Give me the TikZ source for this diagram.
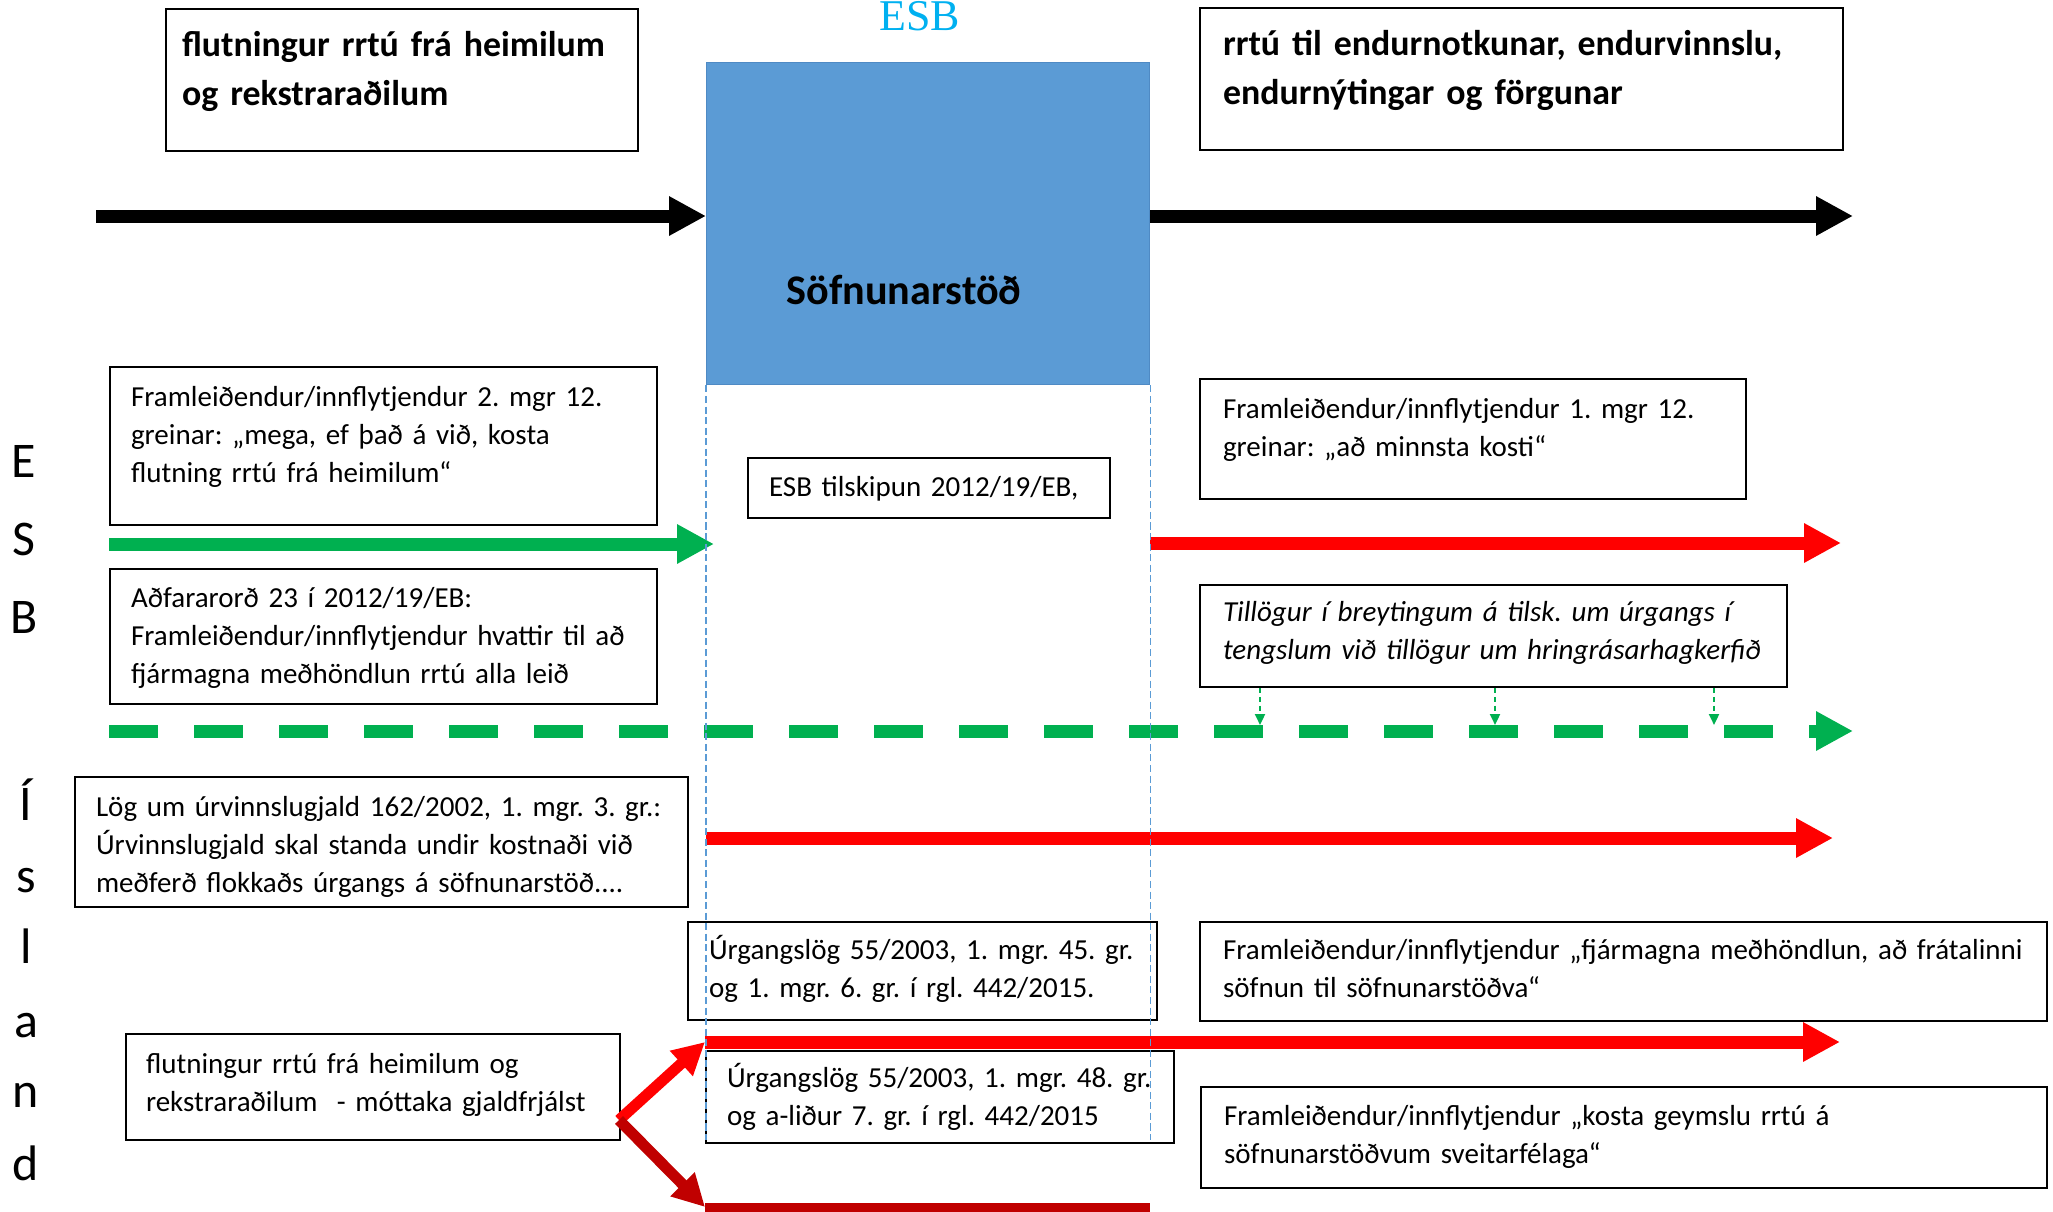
\documentclass[tikz,border=0pt]{standalone}
\usepackage{fontspec}
\setmainfont{Carlito}
\newfontfamily\esbfont{Liberation Serif}
\usepackage{xcolor}
\usetikzlibrary{arrows.meta}
\usetikzlibrary{positioning}

\definecolor{esbblue}{HTML}{00B0F0}
\definecolor{boxblue}{HTML}{5B9BD5}
\definecolor{boxedge}{HTML}{4F8AC4}
\definecolor{grn}{HTML}{00B050}
\definecolor{rd}{HTML}{FF0000}
\definecolor{drd}{HTML}{C00000}

\newcommand{\txtfont}{\fontsize{8.25pt}{10.81pt}\selectfont\frenchspacing}
\newcommand{\headfont}{\fontsize{10.2pt}{14.1pt}\selectfont\bfseries\frenchspacing\hyphenpenalty=10000}

\tikzset{
  lawbox/.style={draw, line width=0.6pt, fill=white, anchor=north west, align=left,
    inner xsep=0.21cm, inner ysep=0pt, font=\txtfont},
  headbox/.style={lawbox, font=\headfont},
  bigarrow/.style={line width=0.13cm, -{Triangle[length=0.37cm,width=0.37cm]}},
  bendarrow/.style={line width=0.11cm, -{Triangle[length=0.32cm,width=0.32cm]}},
  hintarrow/.style={grn, line width=0.6pt, dash pattern=on 1.5pt off 1pt, -{Triangle[length=0.11cm,width=0.1cm]}},
  sideletter/.style={anchor=base, font=\fontsize{14.2pt}{17pt}\selectfont},
  guide/.style={boxblue, line width=0.5pt, dash pattern=on 2pt off 1pt}
}

\begin{document}
\begin{tikzpicture}
\useasboundingbox (0,0) rectangle (20.53,12.11);

% Title and collection point
\node[anchor=base, esbblue, font=\esbfont\fontsize{12.5pt}{15pt}\selectfont] (esb) at (9.20,11.81) {ESB};
\node[draw=boxedge, fill=boxblue, line width=0.4pt, anchor=north west, minimum width=4.43cm, minimum height=3.22cm, inner sep=0pt] (stod) at (7.06,11.49) {};
\node[font=\fontsize{12pt}{14pt}\selectfont\bfseries] (stodname) at (9.04,9.21) {Söfnunarstöð};

% Top row
\node[headbox, inner xsep=0.16cm, text width=4.40cm, text height=0.47cm, text depth=0.95cm] (flutn) at (1.65,12.03) {flutningur rrtú frá heimilum\\og rekstraraðilum};
\node[headbox, inner xsep=0.23cm, text width=5.97cm, text height=0.47cm, text depth=0.95cm] (endurn) at (11.99,12.04) {rrtú til endurnotkunar, endurvinnslu,\\endurnýtingar og förgunar};

\coordinate (inn) at (0.96,9.95);
\coordinate (ut) at (18.53,9.95);
\draw[bigarrow] (inn) -- (inn -| stod.west);
\draw[bigarrow] (ut -| stod.east) -- (ut);

% Side letters
\foreach \ch/\y [count=\i] in {E/7.34, S/6.56, B/5.78}
  \node[sideletter] (esbl\i) at (0.24,\y) {\ch};
\foreach \ch/\y [count=\i] in {Í/3.91, s/3.19, l/2.48, a/1.74, n/1.04, d/0.31}
  \node[sideletter] (isl\i) at (0.26,\y) {\ch};

% ESB boxes
\node[lawbox, text width=5.05cm, text height=0.39cm, text depth=1.19cm] (mgrtvo) at (1.09,8.45) {Framleiðendur/innflytjendur 2. mgr 12.\\greinar: „mega, ef það á við, kosta\\flutning rrtú frá heimilum“};
\node[lawbox, text width=3.20cm, text height=0.38cm, text depth=0.22cm] (tilsk) at (7.47,7.54) {ESB tilskipun 2012/19/EB,};
\node[lawbox, inner xsep=0.23cm, text width=5.00cm, text height=0.39cm, text depth=0.81cm] (mgreinn) at (11.99,8.33) {Framleiðendur/innflytjendur 1. mgr 12.\\greinar: „að minnsta kosti“};
\node[lawbox, text width=5.05cm, text height=0.38cm, text depth=0.97cm] (adfar) at (1.09,6.43) {Aðfararorð 23 í 2012/19/EB:\\Framleiðendur/innflytjendur hvattir til að\\fjármagna meðhöndlun rrtú alla leið};
\node[lawbox, inner xsep=0.23cm, text width=5.41cm, text height=0.36cm, text depth=0.66cm, font=\txtfont\itshape] (tillog) at (11.99,6.27) {Tillögur í breytingum á tilsk. um úrgangs í\\tengslum við tillögur um hringrásarhagkerfið};

% ESB arrows
\coordinate (grnend) at (7.14,6.67);
\coordinate (rdend) at (18.41,6.68);
\coordinate (dashend) at (18.53,4.80);
\draw[bigarrow, grn] (mgrtvo.west |- grnend) -- (grnend);
\draw[bigarrow, rd] (stod.east |- rdend) -- (rdend);
\draw[bigarrow, grn, dash pattern=on 0.49cm off 0.36cm] (adfar.west |- dashend) -- (dashend);
\foreach \x in {12.60,14.95,17.14}
  \draw[hintarrow] (\x,0 |- tillog.south) -- (\x,4.86);

% Ísland boxes
\node[lawbox, text width=5.71cm, text height=0.39cm, text depth=0.91cm] (urvinnsl) at (0.74,4.35) {Lög um úrvinnslugjald 162/2002, 1. mgr. 3. gr.:\\Úrvinnslugjald skal standa undir kostnaði við\\meðferð flokkaðs úrgangs á söfnunarstöð....};
\node[lawbox, text width=4.27cm, text height=0.37cm, text depth=0.61cm] (urg45) at (6.87,2.90) {Úrgangslög 55/2003, 1. mgr. 45. gr.\\og 1. mgr. 6. gr. í rgl. 442/2015.};
\node[lawbox, inner xsep=0.23cm, text width=8.01cm, text height=0.37cm, text depth=0.62cm] (fjarm) at (11.99,2.90) {Framleiðendur/innflytjendur „fjármagna meðhöndlun, að frátalinni\\söfnun til söfnunarstöðva“};
\node[lawbox, inner xsep=0.20cm, text width=4.54cm, text height=0.39cm, text depth=0.67cm] (flutnis) at (1.25,1.78) {flutningur rrtú frá heimilum og\\rekstraraðilum~ - móttaka gjaldfrjálst};
\node[lawbox, text width=4.26cm, text height=0.36cm, text depth=0.56cm] (urg48) at (7.05,1.61) {Úrgangslög 55/2003, 1. mgr. 48. gr.\\og a-liður 7. gr. í rgl. 442/2015};
\node[lawbox, inner xsep=0.23cm, text width=8.00cm, text height=0.38cm, text depth=0.63cm] (geymsla) at (12.00,1.25) {Framleiðendur/innflytjendur „kosta geymslu rrtú á\\söfnunarstöðvum sveitarfélaga“};

% Ísland arrows
\coordinate (rd1end) at (18.33,3.73);
\coordinate (knee) at (7.05,1.69);
\coordinate (rd2end) at (18.40,1.69);
\coordinate (grein) at (6.19,0.91);
\coordinate (knee2) at (7.05,0.04);
\coordinate (botend) at (11.50,0.02);
\draw[bigarrow, rd] (stod.west |- rd1end) -- (rd1end);
\draw[bendarrow, rd] (grein) -- (knee);
\draw[bigarrow, rd] (knee) -- (rd2end);
\draw[bendarrow, drd] (grein) -- (knee2);
\draw[drd, line width=0.12cm] (knee2 |- botend) -- (botend);

% Guides
\draw[guide] (stod.south west) -- (stod.south west |- 0,0.71);
\draw[guide] (stod.south east) -- (stod.south east |- 0,0.71);

\end{tikzpicture}
\end{document}
